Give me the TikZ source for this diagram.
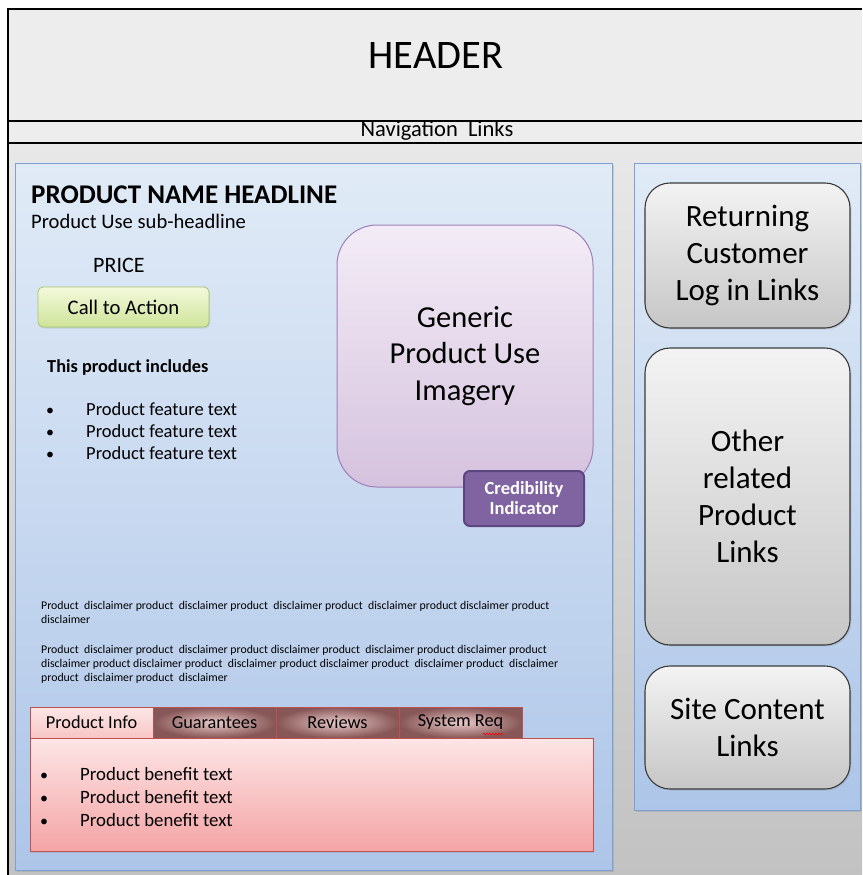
\documentclass[tikz,border=0pt]{standalone}
\usepackage{fontspec}
\setmainfont{Carlito}
\usetikzlibrary{shadows,decorations.pathmorphing}
\definecolor{hdrbg}{HTML}{EDEDED}
\definecolor{lowtop}{HTML}{E8E8E8}
\definecolor{lowbot}{HTML}{C2C2C2}
\definecolor{pantop}{HTML}{E1EBF7}
\definecolor{panbot}{HTML}{ADC5E8}
\definecolor{panline}{HTML}{7BA0D4}
\definecolor{ctatop}{HTML}{F3F9DC}
\definecolor{ctabot}{HTML}{CFE49A}
\definecolor{ctaline}{HTML}{A5C46A}
\definecolor{imgtop}{HTML}{F3ECF6}
\definecolor{imgbot}{HTML}{D5C2DE}
\definecolor{imgline}{HTML}{9D80B8}
\definecolor{credfill}{HTML}{8064A2}
\definecolor{credline}{HTML}{5C4680}
\definecolor{tabline}{HTML}{C0504D}
\definecolor{tabtop}{HTML}{FDE6E6}
\definecolor{tabbot}{HTML}{F7C6C6}
\definecolor{tabin}{HTML}{EACACA}
\definecolor{tabout}{HTML}{875656}
\definecolor{cnttop}{HTML}{FDE5E6}
\definecolor{cntbot}{HTML}{F4A4A5}
\definecolor{boxtop}{HTML}{F3F3F3}
\definecolor{boxbot}{HTML}{C6C6C6}
\definecolor{boxline}{HTML}{3A3A3A}
\tikzset{
  panel/.style={draw=panline, line width=1pt, top color=pantop, bottom color=panbot,
    drop shadow={opacity=0.25, shadow xshift=1.5pt, shadow yshift=-1.5pt}},
  linkbox/.style={draw=boxline, line width=1.1pt, top color=boxtop, bottom color=boxbot,
    rounded corners=25pt, align=center, font=\fontsize{31}{37}\selectfont,
    minimum width=205pt, inner sep=0pt,
    drop shadow={opacity=0.2, shadow xshift=1.5pt, shadow yshift=-1.5pt}},
  tabact/.style={draw=tabline, line width=0.8pt, top color=tabtop, bottom color=tabbot,
    minimum width=123pt, minimum height=31pt, inner sep=0pt, font=\fontsize{18.3}{20}\selectfont},
  tabdark/.style={draw=tabline, line width=0.8pt, inner color=tabin, outer color=tabout,
    minimum width=123pt, minimum height=31pt, inner sep=0pt, font=\fontsize{18.3}{20}\selectfont},
  bul/.style={anchor=base, inner sep=0pt, font=\fontsize{16}{18}\selectfont},
  featt/.style={anchor=base west, inner sep=0pt, font=\fontsize{18.5}{20}\selectfont},
  bent/.style={anchor=base west, inner sep=0pt, font=\fontsize{18.8}{20}\selectfont},
  disc/.style={anchor=north west, inner sep=0pt, align=left, font=\fontsize{11.8}{14}\selectfont},
}
\begin{document}
\begin{tikzpicture}[x=1pt,y=-1pt]
\useasboundingbox (0,0) rectangle (862,875);
% backgrounds
\fill[hdrbg] (8,9) rectangle (862,143);
\shade[top color=lowtop, bottom color=lowbot] (8,143) rectangle (862,875);
\draw[line width=1.2pt] (862,9) -- (8,9) -- (8,875);
\draw[line width=1.2pt] (8,121) -- (862,121);
\draw[line width=1.2pt] (8,143) -- (862,143);
\node[font=\fontsize{40.5}{42}\selectfont, inner sep=0pt] (header) at (436,56) {HEADER};
\node[font=\fontsize{22.5}{24}\selectfont, inner sep=0pt] (nav) at (437,131) {Navigation\ \ Links};
% panels
\node[panel, minimum width=597pt, minimum height=707pt, inner sep=0pt] (lp) at (313.5,516.5) {};
\node[panel, minimum width=226pt, minimum height=647pt, inner sep=0pt] (rp) at (747,486.5) {};
% left content
\node[anchor=base west, inner sep=0pt, font=\fontsize{27}{28}\selectfont\bfseries] (headline) at (31,203) {PRODUCT NAME HEADLINE};
\node[anchor=base west, inner sep=0pt, font=\fontsize{20.6}{22}\selectfont] (sub) at (31,228) {Product Use sub-headline};
\node[anchor=base west, inner sep=0pt, font=\fontsize{22}{24}\selectfont] (price) at (93,272) {PRICE};
\node[draw=ctaline, line width=0.8pt, top color=ctatop, bottom color=ctabot, rounded corners=5pt,
  minimum width=171pt, minimum height=40pt, inner sep=0pt, font=\fontsize{20.7}{22}\selectfont,
  drop shadow={opacity=0.2, shadow xshift=1pt, shadow yshift=-1.5pt}] (cta) at (123.5,307) {Call to Action};
\node[anchor=base west, inner sep=0pt, font=\fontsize{18.3}{20}\selectfont\bfseries] (incl) at (47,372) {This product includes};
\foreach \yy/\nm in {415/f1,437/f2,459/f3}{
  \node[bul] (\nm b) at (50,\yy) {•};
  \node[featt] (\nm) at (86,\yy) {Product feature text};
}
% imagery
\node[draw=imgline, line width=1pt, top color=imgtop, bottom color=imgbot, rounded corners=40pt,
  minimum width=256pt, minimum height=262pt, inner sep=0pt, align=center,
  font=\fontsize{30.5}{36.5}\selectfont] (img) at (465,356) {Generic\\Product Use\\Imagery};
\node[draw=credline, line width=2pt, fill=credfill, rounded corners=6pt, text=white,
  minimum width=120pt, minimum height=55pt, inner sep=0pt, align=center,
  font=\fontsize{18.5}{20}\selectfont\bfseries] (cred) at (524,498.5) {Credibility\\Indicator};
% disclaimers
\node[disc] (disc1) at (41,601) {Product\ \ disclaimer product\ \ disclaimer product\ \ disclaimer product\ \ disclaimer product disclaimer product\\disclaimer};
\node[disc] (disc2) at (41,645) {Product\ \ disclaimer product\ \ disclaimer product disclaimer product\ \ disclaimer product disclaimer product\\disclaimer product disclaimer product\ \ disclaimer product disclaimer product\ \ disclaimer product\ \ disclaimer\\product\ \ disclaimer product\ \ disclaimer};
% tabs
\node[draw=tabline, line width=0.8pt, top color=cnttop, bottom color=cntbot,
  minimum width=563pt, minimum height=113pt, inner sep=0pt,
  drop shadow={opacity=0.2, shadow xshift=1pt, shadow yshift=-1.5pt}] (content) at (311.5,794.5) {};
\node[tabact] (t1) at (91.5,722.5) {Product Info};
\node[tabdark] (t2) at (214.5,722.5) {Guarantees};
\node[tabdark] (t3) at (337.5,722.5) {Reviews};
\node[tabdark] (t4) at (460.5,722.5) {System Req};
\draw[red, line width=0.6pt, decorate, decoration={snake, amplitude=0.8pt, segment length=3pt}] (483,734) -- (503,734);
\foreach \yy/\nm in {780/b1,803/b2,826/b3}{
  \node[bul] (\nm b) at (44,\yy) {•};
  \node[bent] (\nm) at (80,\yy) {Product benefit text};
}
% right boxes
\node[linkbox, minimum height=145pt] (ret) at (747.5,255.5) {Returning\\Customer\\Log in Links};
\node[linkbox, minimum height=297pt] (oth) at (747.5,496.5) {Other\\related\\Product\\Links};
\node[linkbox, minimum height=123pt] (site) at (747.5,727.5) {Site Content\\Links};
\end{tikzpicture}
\end{document}
